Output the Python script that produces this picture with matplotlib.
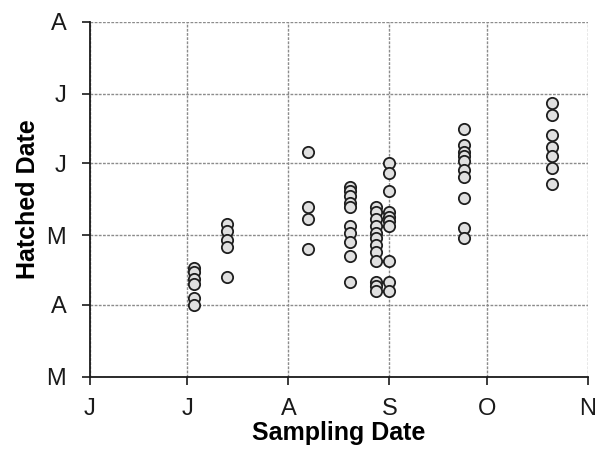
import pandas as pd
import matplotlib
matplotlib.use("Agg")
import matplotlib.pyplot as plt
import matplotlib.dates as mdates

plt.rcParams['font.family'] = ['Liberation Sans', 'DejaVu Sans']

# Sampling dates (one per collection) and hatch dates of the fish in each sample
sampling_dates = ['07-03', '07-13', '08-07', '08-20', '08-28', '09-01', '09-24', '10-21']
hatch_dates = [
    ['04-17', '04-15', '04-12', '04-10', '04-04', '04-01'],
    ['05-06', '05-03', '04-29', '04-26', '04-13'],
    ['06-06', '05-13', '05-08', '04-25'],
    ['05-22', '05-20', '05-18', '05-15', '05-13', '05-05', '05-02', '04-28', '04-22', '04-11'],
    ['05-13', '05-11', '05-08', '05-05', '05-02', '04-30', '04-27', '04-24', '04-20',
     '04-11', '04-09', '04-07'],
    ['06-01', '05-28', '05-20', '05-11', '05-09', '05-07', '05-05', '04-20', '04-11', '04-07'],
    ['06-16', '06-09', '06-06', '06-04', '06-02', '05-29', '05-26', '05-17', '05-04', '04-30'],
    ['06-27', '06-22', '06-13', '06-08', '06-04', '05-30', '05-23'],
]

x_months = ['06-01', '07-01', '08-01', '09-01', '10-01', '11-01']
x_labels = ['J', 'J', 'A', 'S', 'O', 'N']
y_months = ['03-01', '04-01', '05-01', '06-01', '07-01', '08-01']
y_labels = ['M', 'A', 'M', 'J', 'J', 'A']

year = '2009-'
xs, ys = [], []
for s, hs in zip(sampling_dates, hatch_dates):
    for h in hs:
        xs.append(pd.Timestamp(year + s))
        ys.append(pd.Timestamp(year + h))

xticks = mdates.date2num([pd.Timestamp(year + m) for m in x_months])
yticks = mdates.date2num([pd.Timestamp(year + m) for m in y_months])

fig = plt.figure(figsize=(5.95, 4.54), dpi=100)
ax = fig.add_axes([0.151, 0.170, 0.837, 0.782])

ax.scatter(mdates.date2num(xs), mdates.date2num(ys), s=66, facecolor='#e0e0e0',
           edgecolor='#1e1e1e', linewidth=1.3, zorder=3, clip_on=False)

ax.set_xlim(xticks[0], xticks[-1])
ax.set_ylim(yticks[0], yticks[-1])
ax.set_xticks(xticks)
ax.set_xticklabels(x_labels)
ax.set_yticks(yticks)
ax.set_yticklabels(y_labels)

ax.grid(True, color='#8c8c8c', linestyle=(0, (2, 1)), linewidth=1.0, zorder=0)
ax.set_axisbelow(True)

for side in ['top', 'right']:
    ax.spines[side].set_visible(False)
for side in ['left', 'bottom']:
    ax.spines[side].set_linewidth(1.3)
    ax.spines[side].set_color('#1a1a1a')

ax.tick_params(axis='both', direction='out', length=6, width=1.2, labelsize=17,
               colors='#1a1a1a')
ax.tick_params(axis='x', pad=9)
ax.tick_params(axis='y', pad=11)

ax.set_xlabel('Sampling Date', fontsize=18, fontweight='bold', labelpad=1)
ax.set_ylabel('Hatched Date', fontsize=18, fontweight='bold', labelpad=5)

fig.savefig('out.png', dpi=100)
